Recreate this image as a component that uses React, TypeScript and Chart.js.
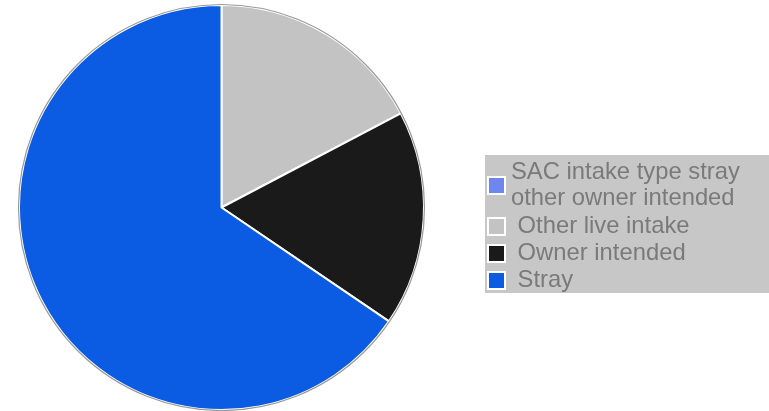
import React, { useEffect, useRef } from "react";
import { Chart, registerables } from "chart.js";

Chart.register(...registerables);

const categories: string[][] = [
  ["SAC intake type stray", "other owner intended"],
  [" Other live intake"],
  [" Owner intended"],
  [" Stray"],
];
const values: number[] = [0, 17.3, 17.2, 65.5];
const colors: string[] = ["#6f86ee", "#c3c3c3", "#1b1a1a", "#0b5ce2"];

const FONT = '23.8px "Liberation Sans", Arial, sans-serif';

const outlinePlugin = {
  id: "outline",
  afterDatasetsDraw(chart: any) {
    const arc = chart.getDatasetMeta(0).data[0];
    if (!arc) return;
    const ctx = chart.ctx;
    ctx.save();
    ctx.beginPath();
    ctx.arc(arc.x, arc.y, arc.outerRadius + 0.5, 0, Math.PI * 2);
    ctx.strokeStyle = "#9a9a9a";
    ctx.lineWidth = 1.2;
    ctx.stroke();
    ctx.restore();
  },
};

const legendPlugin = {
  id: "boxLegend",
  afterDraw(chart: any) {
    const ctx = chart.ctx;
    const labels = chart.data.labels as string[][];
    const bg = chart.data.datasets[0].backgroundColor as string[];
    const boxX = 485;
    const boxY = 155;
    const boxW = chart.width - boxX;
    const boxH = 138;
    ctx.save();
    ctx.fillStyle = "#c7c7c7";
    ctx.fillRect(boxX, boxY, boxW, boxH);
    ctx.font = FONT;
    ctx.textBaseline = "middle";
    ctx.textAlign = "left";
    const lineH = 26;
    let y = boxY + 17;
    labels.forEach((lines, i) => {
      const n = lines.length;
      const centerY = y + ((n - 1) * lineH) / 2 + 1;
      ctx.fillStyle = "#ffffff";
      ctx.fillRect(487, centerY - 10, 19, 19);
      ctx.fillStyle = bg[i];
      ctx.fillRect(489, centerY - 8, 15, 15);
      ctx.fillStyle = "#7a7a7a";
      lines.forEach((t, j) => {
        ctx.fillText(t, 511, y + j * lineH);
      });
      y += n * lineH + (i === 0 ? 2 : 1);
    });
    ctx.restore();
  },
};

export default function App() {
  const ref = useRef<HTMLCanvasElement | null>(null);
  useEffect(() => {
    if (!ref.current) return;
    const chart = new Chart(ref.current, {
      type: "pie",
      data: {
        labels: categories as any,
        datasets: [
          {
            data: values,
            backgroundColor: colors,
            borderColor: "#ffffff",
            borderWidth: 2,
          },
        ],
      },
      options: {
        responsive: false,
        animation: false,
        layout: { padding: { left: 18, right: 344, top: 4, bottom: 0 } },
        plugins: {
          legend: { display: false },
          tooltip: { enabled: false },
        },
      },
      plugins: [outlinePlugin, legendPlugin],
    });
    return () => chart.destroy();
  }, []);
  return (
    <div style={{ position: "absolute", left: 0, top: 0, width: 769, height: 411, background: "#fff" }}>
      <canvas ref={ref} width={769} height={411} style={{ width: 769, height: 411 }} />
    </div>
  );
}
